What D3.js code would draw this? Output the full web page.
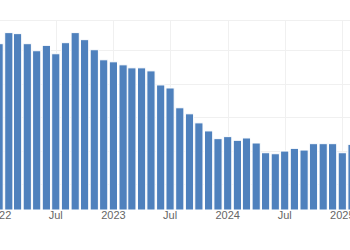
<!DOCTYPE html>
<html>
<head>
<meta charset="utf-8">
<script src="https://cdn.jsdelivr.net/npm/d3@7"></script>
<style>
  html, body { margin: 0; padding: 0; background: #fff; }
  #chart { width: 350px; height: 250px; overflow: hidden; }
</style>
</head>
<body>
<div id="chart"></div>
<script>
// monthly values, Jan 2022 .. Feb 2025
const months = [
    "2022-01", "2022-02", "2022-03", "2022-04", "2022-05", "2022-06",
    "2022-07", "2022-08", "2022-09", "2022-10", "2022-11", "2022-12",
    "2023-01", "2023-02", "2023-03", "2023-04", "2023-05", "2023-06",
    "2023-07", "2023-08", "2023-09", "2023-10", "2023-11", "2023-12",
    "2024-01", "2024-02", "2024-03", "2024-04", "2024-05", "2024-06",
    "2024-07", "2024-08", "2024-09", "2024-10", "2024-11", "2024-12",
    "2025-01", "2025-02"
];
const values = [
    7.19, 7.52, 7.49, 7.19, 6.98, 7.14, 6.89, 7.22, 7.52, 7.31, 7.01, 6.71,
    6.65, 6.56, 6.47, 6.47, 6.38, 5.96, 5.87, 5.28, 5.10, 4.83, 4.59, 4.36,
    4.42, 4.31, 4.38, 4.23, 3.94, 3.91, 3.99, 4.07, 4.02, 4.21, 4.21, 4.21,
    3.94, 4.19
];
const tickDates = ["2022-01", "2022-07", "2023-01", "2023-07", "2024-01", "2024-07", "2025-01"];
const tickLabels = ["2022", "Jul", "2023", "Jul", "2024", "Jul", "2025"];
const gridValues = [3, 4, 5, 6, 7];

const width = 350;
const height = 250;
const plotTop = 20;
const plotBottom = 210;

const parse = d3.timeParse("%Y-%m");
const data = months.map((m, i) => ({ date: parse(m), value: values[i] }));

// the chart is cropped: Jan 2022 sits just off the left edge
const x = d3.scaleTime()
    .domain([parse("2022-01"), parse("2025-01")])
    .range([-0.9, 342.3]);

const y = d3.scaleLinear()
    .domain([2.233, 7.896])
    .range([plotBottom, plotTop]);

const svg = d3.select("#chart")
    .append("svg")
    .attr("width", width)
    .attr("height", height)
    .style("font-family", "'Liberation Sans', Arial, sans-serif");

// Horizontal grid
svg.append("g")
    .selectAll("line")
    .data(gridValues)
    .enter().append("line")
    .attr("x1", 0)
    .attr("x2", width)
    .attr("y1", d => Math.round(y(d)) + 0.5)
    .attr("y2", d => Math.round(y(d)) + 0.5)
    .attr("stroke", "#f0f0f0")
    .attr("stroke-width", 1);

// top border line
svg.append("line")
    .attr("x1", 0).attr("x2", width)
    .attr("y1", plotTop + 0.5).attr("y2", plotTop + 0.5)
    .attr("stroke", "#f0f0f0");

// Vertical grid
svg.append("g")
    .selectAll("line")
    .data(tickDates)
    .enter().append("line")
    .attr("x1", d => Math.round(x(parse(d))) + 0.5)
    .attr("x2", d => Math.round(x(parse(d))) + 0.5)
    .attr("y1", plotTop)
    .attr("y2", plotBottom)
    .attr("stroke", "#f0f0f0")
    .attr("stroke-width", 1);

// Bars
const barW = 8.2;
svg.append("g")
    .selectAll("rect")
    .data(data)
    .enter().append("rect")
    .attr("x", d => x(d.date) - barW / 2)
    .attr("y", d => y(d.value))
    .attr("width", barW)
    .attr("height", d => plotBottom - y(d.value))
    .attr("fill", "#4f81bd")
    .attr("stroke", "#ffffff")
    .attr("stroke-width", 1);

// X axis labels
svg.append("g")
    .selectAll("text")
    .data(tickDates)
    .enter().append("text")
    .attr("x", d => x(parse(d)))
    .attr("y", 219)
    .attr("text-anchor", "middle")
    .style("font-size", "11px")
    .style("fill", "#666")
    .text((d, i) => tickLabels[i]);
</script>
</body>
</html>
